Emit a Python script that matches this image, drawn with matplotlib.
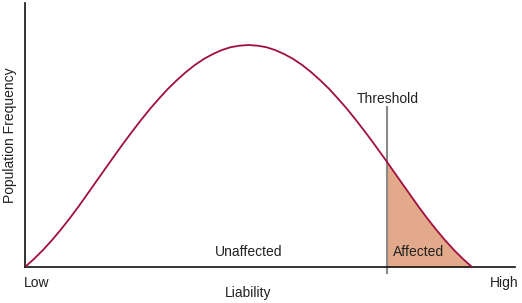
import matplotlib
matplotlib.use("Agg")
import matplotlib.pyplot as plt

plt.rcParams['font.family'] = ['Liberation Sans', 'DejaVu Sans']

# Liability (0 = low end of curve, 100 = high end) and relative population frequency
liability = [0, 2, 4, 6, 8, 10, 12, 14, 16, 18, 20, 22, 24, 26, 28, 30, 32, 34, 36,
             38, 40, 42, 44, 46, 48, 50, 52, 54, 56, 58, 60, 62, 64, 66, 68, 70, 72,
             74, 76, 78, 80, 81, 82, 84, 86, 88, 90, 92, 94, 96, 98, 100]
frequency = [0.0, 0.036, 0.076, 0.12, 0.168, 0.219, 0.273, 0.330, 0.387, 0.444,
             0.501, 0.557, 0.611, 0.663, 0.713, 0.759, 0.803, 0.842, 0.878, 0.910,
             0.937, 0.959, 0.977, 0.990, 0.997, 1.0, 0.997, 0.990, 0.977, 0.959,
             0.937, 0.910, 0.878, 0.842, 0.803, 0.759, 0.713, 0.663, 0.611, 0.557,
             0.501, 0.473, 0.444, 0.387, 0.330, 0.273, 0.219, 0.168, 0.12, 0.076,
             0.036, 0.0]
threshold = 81

W, H = 522, 303
fig = plt.figure(figsize=(W / 100, H / 100), dpi=100)
ax = fig.add_axes([25 / W, 36 / H, 490 / W, 264 / H])
ax.set_xlim(0, 490 / 4.47)
ax.set_ylim(0, 264 / 222)

for s in ['top', 'right']:
    ax.spines[s].set_visible(False)
for s in ['left', 'bottom']:
    ax.spines[s].set_color('#111111')
    ax.spines[s].set_linewidth(1.2)
ax.set_xticks([])
ax.set_yticks([])

xs_fill = [x for x in liability if x >= threshold]
ys_fill = [y for x, y in zip(liability, frequency) if x >= threshold]
ax.fill_between(xs_fill, 0, ys_fill, color='#E2A98A', lw=0, zorder=1)
ax.plot(liability, frequency, color='#A0103E', lw=1.3, zorder=3,
        solid_joinstyle='round')
ax.plot([threshold, threshold], [-6 / 222, 160 / 222], color='#8A8A8A', lw=1.5,
        clip_on=False, zorder=2)

tc = '#222222'
ax.text(threshold + 0.1, 168 / 222, 'Threshold', ha='center', va='center',
        fontsize=10, color=tc)
ax.text(88.0, 15 / 222, 'Affected', ha='center', va='center', fontsize=10, color=tc)
ax.text(50, 15 / 222, 'Unaffected', ha='center', va='center', fontsize=10, color=tc)

fig.text(37 / W, 1 - 283 / H, 'Low', ha='center', va='center', fontsize=10, color=tc)
fig.text(504 / W, 1 - 283 / H, 'High', ha='center', va='center', fontsize=10, color=tc)
fig.text(248 / W, 1 - 293 / H, 'Liability', ha='center', va='center', fontsize=10, color=tc)
fig.text(10 / W, 1 - 135 / H, 'Population Frequency', ha='center', va='center',
         rotation=90, fontsize=10, color=tc)

fig.savefig('out.png', dpi=100)
